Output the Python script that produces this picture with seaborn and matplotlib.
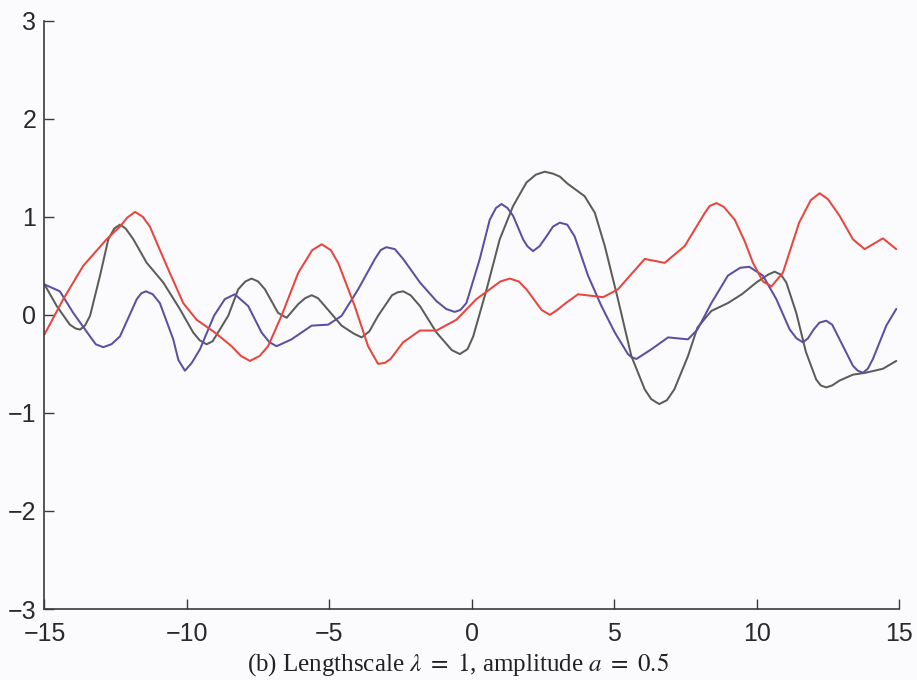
import numpy as np
import pandas as pd
import matplotlib
matplotlib.use("Agg")
import matplotlib.pyplot as plt
import seaborn as sns

# Three sample paths drawn from the process (x, f(x)) pairs
red_x = [-15.0, -14.34, -13.64, -12.82, -12.35, -12.10, -11.82, -11.55, -11.30, -10.71,
         -10.13, -9.66, -9.02, -8.43, -8.10, -7.79, -7.45, -7.15, -6.68, -6.09,
         -5.60, -5.27, -4.95, -4.69, -4.11, -3.64, -3.29, -3.05, -2.85, -2.41,
         -1.82, -1.24, -0.54, 0.16, 0.63, 1.00, 1.33, 1.65, 1.92, 2.45,
         2.74, 3.00, 3.30, 3.73, 4.61, 5.13, 6.07, 6.77, 7.47, 8.18,
         8.35, 8.59, 8.85, 9.23, 9.58, 9.87, 10.22, 10.52, 10.92, 11.49,
         11.90, 12.21, 12.50, 12.91, 13.38, 13.79, 14.43, 14.90]
red_y = [-0.20, 0.16, 0.50, 0.77, 0.90, 0.99, 1.05, 1.00, 0.90, 0.50,
         0.12, -0.05, -0.18, -0.32, -0.42, -0.47, -0.42, -0.32, -0.01, 0.43,
         0.66, 0.72, 0.66, 0.53, 0.09, -0.32, -0.50, -0.49, -0.45, -0.28,
         -0.16, -0.16, -0.05, 0.16, 0.26, 0.34, 0.37, 0.34, 0.26, 0.05,
         0.00, 0.05, 0.12, 0.21, 0.18, 0.26, 0.57, 0.53, 0.70, 1.04,
         1.11, 1.14, 1.10, 0.97, 0.75, 0.53, 0.34, 0.29, 0.43, 0.94,
         1.17, 1.24, 1.18, 1.01, 0.77, 0.67, 0.78, 0.67]

blue_x = [-15.0, -14.46, -13.99, -13.40, -13.20, -12.94, -12.65, -12.35, -11.76, -11.60,
          -11.44, -11.20, -10.95, -10.48, -10.30, -10.07, -9.83, -9.54, -9.05, -8.67,
          -8.32, -7.85, -7.38, -7.10, -6.85, -6.33, -5.62, -5.04, -4.57, -3.99,
          -3.40, -3.20, -3.00, -2.70, -2.41, -1.82, -1.24, -0.90, -0.60, -0.40,
          -0.19, 0.28, 0.63, 0.85, 1.04, 1.25, 1.45, 1.80, 1.95, 2.15,
          2.38, 2.62, 2.85, 3.09, 3.35, 3.61, 4.08, 4.55, 5.02, 5.48,
          5.60, 5.78, 6.31, 6.89, 7.59, 7.92, 8.41, 8.99, 9.42, 9.74,
          10.22, 10.69, 11.16, 11.40, 11.62, 11.80, 12.00, 12.20, 12.44, 12.65,
          12.91, 13.38, 13.55, 13.73, 13.90, 14.08, 14.55, 14.90]
blue_y = [0.31, 0.24, 0.02, -0.22, -0.30, -0.33, -0.30, -0.22, 0.16, 0.22,
          0.24, 0.21, 0.12, -0.25, -0.46, -0.57, -0.49, -0.35, -0.01, 0.16,
          0.21, 0.09, -0.18, -0.28, -0.32, -0.25, -0.11, -0.10, -0.01, 0.26,
          0.57, 0.66, 0.69, 0.67, 0.57, 0.33, 0.14, 0.06, 0.03, 0.05,
          0.12, 0.57, 0.97, 1.09, 1.13, 1.09, 1.01, 0.77, 0.70, 0.65,
          0.70, 0.80, 0.90, 0.94, 0.92, 0.80, 0.40, 0.09, -0.18, -0.40,
          -0.43, -0.45, -0.35, -0.23, -0.25, -0.15, 0.12, 0.40, 0.48, 0.49,
          0.40, 0.16, -0.15, -0.24, -0.28, -0.24, -0.15, -0.08, -0.06, -0.10,
          -0.25, -0.52, -0.57, -0.59, -0.55, -0.45, -0.11, 0.06]

gray_x = [-15.0, -14.57, -14.11, -13.90, -13.75, -13.58, -13.40, -13.05, -12.76, -12.55,
          -12.35, -12.15, -11.88, -11.41, -10.83, -10.25, -9.78, -9.55, -9.31, -9.10,
          -8.95, -8.55, -8.20, -7.95, -7.73, -7.50, -7.26, -6.80, -6.50, -6.09,
          -5.85, -5.62, -5.40, -5.16, -4.57, -4.15, -3.87, -3.60, -3.29, -2.80,
          -2.60, -2.41, -2.15, -1.82, -1.24, -0.70, -0.42, -0.15, 0.05, 0.52,
          0.98, 1.45, 1.92, 2.25, 2.56, 2.85, 3.09, 3.35, 3.96, 4.32,
          4.67, 5.13, 5.60, 6.07, 6.30, 6.58, 6.85, 7.11, 7.59, 7.92,
          8.41, 8.99, 9.48, 9.99, 10.40, 10.63, 10.85, 11.04, 11.39, 11.73,
          12.09, 12.25, 12.44, 12.65, 12.91, 13.38, 13.83, 14.43, 14.90]
gray_y = [0.31, 0.09, -0.10, -0.14, -0.15, -0.11, -0.01, 0.40, 0.77, 0.88,
          0.92, 0.88, 0.77, 0.53, 0.33, 0.06, -0.18, -0.26, -0.30, -0.27,
          -0.20, -0.01, 0.26, 0.34, 0.37, 0.34, 0.26, 0.02, -0.03, 0.11,
          0.17, 0.20, 0.17, 0.09, -0.11, -0.19, -0.23, -0.17, -0.01, 0.20,
          0.23, 0.24, 0.20, 0.09, -0.18, -0.36, -0.40, -0.35, -0.22, 0.26,
          0.77, 1.11, 1.35, 1.43, 1.46, 1.44, 1.41, 1.34, 1.21, 1.04,
          0.70, 0.16, -0.42, -0.76, -0.86, -0.91, -0.87, -0.76, -0.42, -0.13,
          0.04, 0.12, 0.21, 0.33, 0.41, 0.44, 0.41, 0.33, 0.02, -0.38,
          -0.66, -0.72, -0.74, -0.72, -0.67, -0.61, -0.59, -0.55, -0.47]

x_ticks = [-15, -10, -5, 0, 5, 10, 15]
y_ticks = [-3, -2, -1, 0, 1, 2, 3]
caption = r"(b) Lengthscale $\lambda\ =\ 1$, amplitude $a\ =\ 0.5$"

frames = []
for name, xs, ys in [("gray", gray_x, gray_y), ("blue", blue_x, blue_y), ("red", red_x, red_y)]:
    frames.append(pd.DataFrame({"x": xs, "y": ys, "sample": name}))
df = pd.concat(frames, ignore_index=True)

sns.set_theme(style="ticks")
plt.rcParams["font.family"] = ["Liberation Sans", "DejaVu Sans"]
plt.rcParams["mathtext.fontset"] = "stix"
plt.rcParams["lines.solid_joinstyle"] = "round"

bg = "#fbfbfd"
fig = plt.figure(figsize=(9.17, 6.80), dpi=100, facecolor=bg)
ax = fig.add_axes([0.0485, 0.1044, 0.932, 0.8652])
ax.set_facecolor(bg)

palette = {"gray": "#5b5d57", "blue": "#5a4fa2", "red": "#e8453c"}
sns.lineplot(data=df, x="x", y="y", hue="sample", palette=palette,
             estimator=None, sort=True, linewidth=1.45, legend=False, ax=ax)

ax.set_xlim(-15, 15)
ax.set_ylim(-3, 3)
ax.set_xticks(x_ticks)
ax.set_yticks(y_ticks)
ax.set_xticklabels([f"{t}".replace("-", "\u2212") for t in x_ticks])
ax.set_yticklabels([f"{t}".replace("-", "\u2212") for t in y_ticks])
ax.set_xlabel("")
ax.set_ylabel("")

for side in ("top", "right"):
    ax.spines[side].set_visible(False)
for side in ("left", "bottom"):
    ax.spines[side].set_color("#3a3a3a")
    ax.spines[side].set_linewidth(1.2)

ax.tick_params(axis="both", direction="in", length=7, width=1.0, color="#3a3a3a",
               labelsize=18, labelcolor="#2a2a2a")
ax.tick_params(axis="x", pad=9)
ax.tick_params(axis="y", pad=6)

fig.text(0.5, 0.014, caption, ha="center", va="baseline",
         fontsize=18, family=["Liberation Serif", "DejaVu Serif"], color="#222222")

fig.savefig("out.png", dpi=100, facecolor=bg)
